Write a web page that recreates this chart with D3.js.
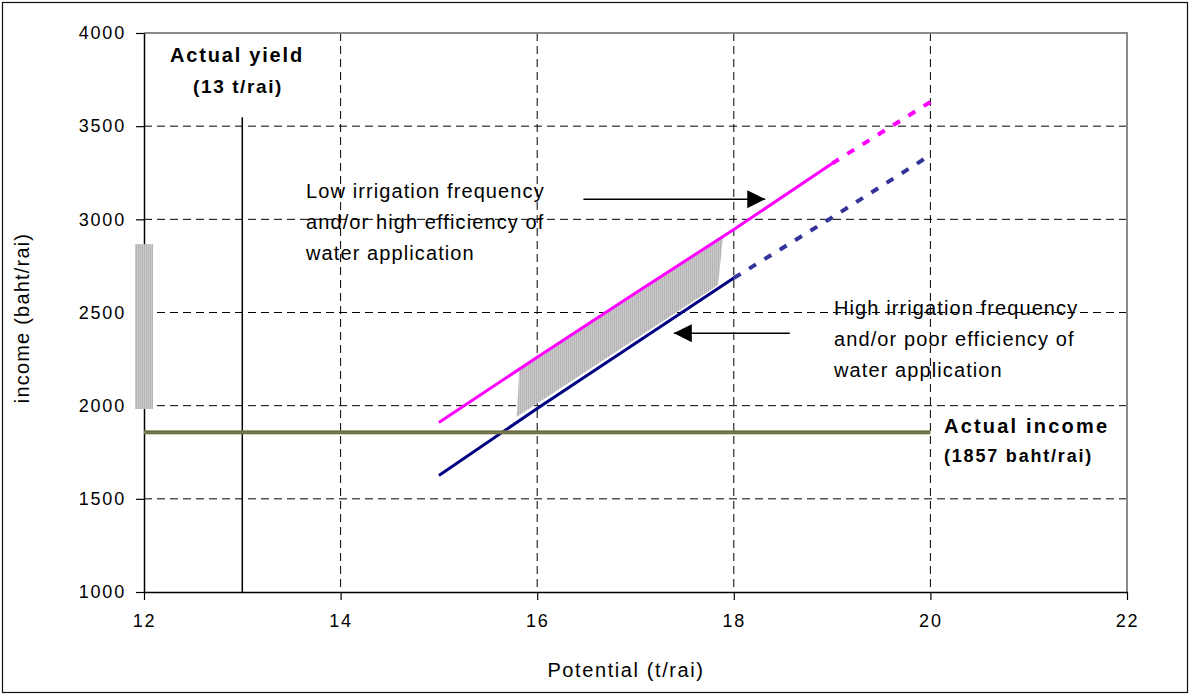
<!DOCTYPE html>
<html lang="en">
<head>
<meta charset="utf-8">
<title>Income vs potential yield</title>
<script src="https://cdnjs.cloudflare.com/ajax/libs/d3/7.8.5/d3.min.js"></script>
<style>
  body { margin: 0; background: #fff; }
  text { font-family: "Liberation Sans", Arial, sans-serif; fill: #000; }
</style>
</head>
<body>
<script>
// data
const xTicks = [12, 14, 16, 18, 20, 22];
const yTicks = [1000, 1500, 2000, 2500, 3000, 3500, 4000];

const lowX = [15, 16, 17, 18, 19];
const lowY = [1910, 2260, 2605, 2945, 3300];
const lowDashX = [19, 20];
const lowDashY = [3300, 3630];

const highX = [15, 16, 17, 18];
const highY = [1625, 1985, 2335, 2685];
const highDashX = [18, 19, 20];
const highDashY = [2685, 3010, 3345];

// grey band between the two lines
const bandX = [15.82, 17.89, 17.84, 15.79];
const bandY = [2202, 2905, 2647, 1939];

// grey bar at the y axis
const barX = 12;
const barY = [1982, 2867];

const actualIncome = 1857;
const incomeRange = [12, 20];
const actualYield = 13;
const yieldTop = 3548;

// arrows: [x from, x to, y]
const arrows = [[16.47, 18.32, 3108], [18.57, 17.39, 2389]];

const W = 1192, H = 695;
const svg = d3.select("body").append("svg").attr("width", W).attr("height", H);

const x = d3.scaleLinear().domain([12, 22]).range([144, 1127]);
const y = d3.scaleLinear().domain([1000, 4000]).range([592, 33]);

// outer frame
svg.append("rect").attr("x", 2.5).attr("y", 2.5).attr("width", 1185).attr("height", 690)
  .attr("fill", "none").attr("stroke", "#111").attr("stroke-width", 1.2);

const defs = svg.append("defs");
const pat = defs.append("pattern").attr("id", "hatch").attr("patternUnits", "userSpaceOnUse")
  .attr("width", 2).attr("height", 2);
pat.append("rect").attr("width", 2).attr("height", 2).attr("fill", "#cacaca");
pat.append("rect").attr("width", 1).attr("height", 2).attr("fill", "#b4b4b4");

const olive = defs.append("pattern").attr("id", "olive").attr("patternUnits", "userSpaceOnUse")
  .attr("width", 2).attr("height", 2);
olive.append("rect").attr("width", 2).attr("height", 2).attr("fill", "#6b6b40");
olive.append("rect").attr("width", 1).attr("height", 1).attr("fill", "#8a8a60");

const mk = defs.append("marker").attr("id", "head").attr("viewBox", "0 0 10 10")
  .attr("refX", 10).attr("refY", 5).attr("markerWidth", 18).attr("markerHeight", 20)
  .attr("markerUnits", "userSpaceOnUse").attr("orient", "auto");
mk.append("path").attr("d", "M0,0L10,5L0,10Z").attr("fill", "#000");

// grid
svg.append("g").selectAll("line").data(yTicks.filter(d => d > 1000 && d < 4000)).join("line")
  .attr("x1", x(12)).attr("x2", x(22)).attr("y1", d => y(d)).attr("y2", d => y(d))
  .attr("stroke", "#000").attr("stroke-dasharray", "8,5").attr("stroke-width", 1);
svg.append("g").selectAll("line").data(xTicks.filter(d => d > 12 && d < 22)).join("line")
  .attr("x1", d => x(d)).attr("x2", d => x(d)).attr("y1", y(4000)).attr("y2", y(1000))
  .attr("stroke", "#000").attr("stroke-dasharray", "8,5").attr("stroke-width", 1);

// top and right frame of plot
svg.append("path")
  .attr("d", `M${x(12)},${y(4000)}H${x(22)}V${y(1000)}`)
  .attr("fill", "none").attr("stroke", "#8a8a8a").attr("stroke-width", 2);

// band
svg.append("polygon")
  .attr("points", bandX.map((d, i) => [x(d), y(bandY[i])].join(",")).join(" "))
  .attr("fill", "url(#hatch)");

const line = d3.line().x(d => x(d[0])).y(d => y(d[1]));

svg.append("path").datum(lowDashX.map((d, i) => [d, lowDashY[i]])).attr("d", line)
  .attr("fill", "none").attr("stroke", "#ff00ff").attr("stroke-width", 4).attr("stroke-dasharray", "8,10");
svg.append("path").datum(highDashX.map((d, i) => [d, highDashY[i]])).attr("d", line)
  .attr("fill", "none").attr("stroke", "#333399").attr("stroke-width", 4).attr("stroke-dasharray", "8,10");
svg.append("path").datum(lowX.map((d, i) => [d, lowY[i]])).attr("d", line)
  .attr("fill", "none").attr("stroke", "#ff00ff").attr("stroke-width", 3);
svg.append("path").datum(highX.map((d, i) => [d, highY[i]])).attr("d", line)
  .attr("fill", "none").attr("stroke", "#000080").attr("stroke-width", 3);

// actual yield line
svg.append("line").attr("x1", x(actualYield)).attr("x2", x(actualYield))
  .attr("y1", y(yieldTop)).attr("y2", y(1000)).attr("stroke", "#000").attr("stroke-width", 1.5);

// axes
const xAxis = svg.append("g").attr("transform", `translate(0,${y(1000)})`)
  .call(d3.axisBottom(x).tickValues(xTicks).tickFormat(d3.format("d"))
    .tickSize(8).tickSizeOuter(0).tickPadding(14));
const yAxis = svg.append("g").attr("transform", `translate(${x(12)},0)`)
  .call(d3.axisLeft(y).tickValues(yTicks).tickFormat(d3.format("d"))
    .tickSize(8).tickSizeOuter(0).tickPadding(12));
[xAxis, yAxis].forEach(g => {
  g.select(".domain").attr("stroke", "#000").attr("stroke-width", 1.5);
  g.selectAll(".tick line").attr("stroke", "#000").attr("stroke-width", 1.2);
  g.selectAll(".tick text").attr("font-family", "Liberation Sans, Arial, sans-serif")
    .attr("font-size", 18).attr("letter-spacing", 1.8).attr("fill", "#000");
});
yAxis.selectAll(".tick text").attr("dx", 2);

// grey bar at axis
svg.append("rect").attr("x", x(barX) - 9).attr("width", 18)
  .attr("y", y(barY[1])).attr("height", y(barY[0]) - y(barY[1]))
  .attr("fill", "url(#hatch)");

// actual income line
svg.append("rect").attr("x", x(incomeRange[0])).attr("width", x(incomeRange[1]) - x(incomeRange[0]))
  .attr("y", y(actualIncome) - 2).attr("height", 4).attr("fill", "url(#olive)");

// arrows
svg.append("g").selectAll("line").data(arrows).join("line")
  .attr("x1", d => x(d[0])).attr("x2", d => x(d[1]))
  .attr("y1", d => y(d[2])).attr("y2", d => y(d[2]))
  .attr("stroke", "#000").attr("stroke-width", 1.5).attr("marker-end", "url(#head)");

// text
function lines(xp, yp, arr, size, weight, ls, gap, anchor) {
  const t = svg.append("text").attr("x", xp).attr("y", yp).attr("font-size", size)
    .attr("font-weight", weight).attr("letter-spacing", ls).attr("text-anchor", anchor || "start");
  arr.forEach((s, i) => t.append("tspan").attr("x", xp).attr("dy", i ? gap : 0).text(s));
}
lines(306, 198, ["Low irrigation frequency", "and/or high efficiency of", "water application"], 20, "normal", 1.1, 31);
lines(834, 315, ["High irrigation frequency", "and/or poor efficiency of", "water application"], 20, "normal", 1.1, 31);
lines(237, 62, ["Actual yield"], 20, "bold", 1.8, 0, "middle");
lines(238, 93, ["(13 t/rai)"], 19, "bold", 1.6, 0, "middle");
lines(944, 433, ["Actual income"], 20, "bold", 2.2, 0);
lines(944, 462, ["(1857 baht/rai)"], 18, "bold", 1.8, 0);

svg.append("text").attr("x", 626).attr("y", 677).attr("text-anchor", "middle")
  .attr("font-size", 20).attr("letter-spacing", 1.6).text("Potential (t/rai)");
svg.append("text").attr("transform", "translate(29,318) rotate(-90)").attr("text-anchor", "middle")
  .attr("font-size", 20).attr("letter-spacing", 1.2).text("income (baht/rai)");
</script>
</body>
</html>
